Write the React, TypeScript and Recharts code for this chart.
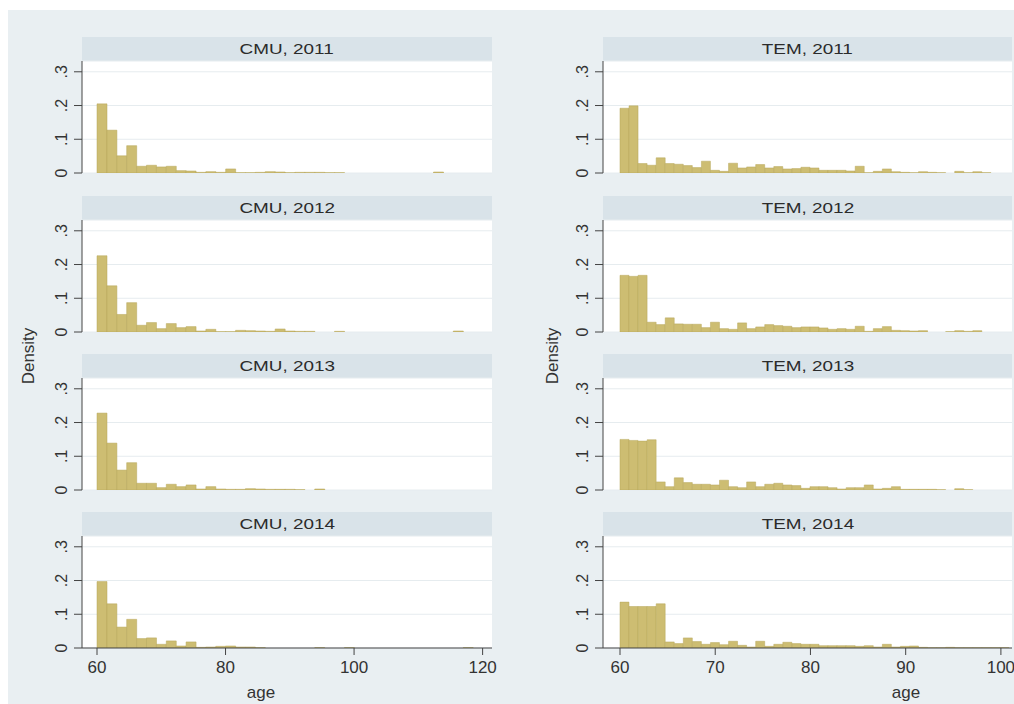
import { Bar, BarChart, CartesianGrid, XAxis, YAxis } from "recharts";

// histogram bin setup (age starts at 60)
const cmuBinWidth = 1.54;
const temBinWidth = 0.95;

const cmuTicks = [60, 80, 100, 120];
const temTicks = [60, 70, 80, 90, 100];
const densityTicks = [0, 0.1, 0.2, 0.3];

const cmu2011 = [0.205, 0.127, 0.051, 0.081, 0.02, 0.023, 0.018, 0.02, 0.007, 0.006, 0.002, 0.004, 0.002, 0.012, 0.001, 0.001, 0.002, 0.004, 0.003, 0.001, 0.002, 0.002, 0.002, 0.001, 0.001, 0, 0, 0, 0, 0, 0, 0, 0, 0, 0.003, 0, 0, 0, 0];
const cmu2012 = [0.226, 0.137, 0.052, 0.087, 0.02, 0.028, 0.01, 0.025, 0.013, 0.016, 0.003, 0.008, 0.001, 0.001, 0.005, 0.004, 0.003, 0.002, 0.009, 0.003, 0.002, 0.002, 0, 0, 0.002, 0, 0, 0, 0, 0, 0, 0, 0, 0, 0, 0, 0.003, 0, 0];
const cmu2013 = [0.228, 0.139, 0.059, 0.081, 0.02, 0.02, 0.007, 0.017, 0.01, 0.015, 0.003, 0.01, 0.003, 0.002, 0.002, 0.004, 0.003, 0.002, 0.002, 0.002, 0.001, 0, 0.003, 0, 0, 0, 0, 0, 0, 0, 0, 0, 0, 0, 0, 0, 0, 0, 0];
const cmu2014 = [0.197, 0.131, 0.062, 0.085, 0.028, 0.03, 0.011, 0.021, 0.006, 0.018, 0.002, 0.003, 0.005, 0.006, 0.003, 0.003, 0.001, 0, 0, 0, 0, 0, 0.001, 0, 0, 0.001, 0, 0, 0, 0, 0, 0, 0, 0, 0, 0, 0, 0.001, 0];

const tem2011 = [0.192, 0.199, 0.028, 0.023, 0.045, 0.028, 0.026, 0.022, 0.016, 0.035, 0.008, 0.005, 0.029, 0.015, 0.018, 0.025, 0.015, 0.019, 0.012, 0.013, 0.017, 0.015, 0.008, 0.008, 0.008, 0.006, 0.02, 0.001, 0.005, 0.012, 0.004, 0.002, 0.001, 0.004, 0.002, 0.001, 0, 0.005, 0.001, 0.004, 0.001, 0, 0];
const tem2012 = [0.168, 0.165, 0.168, 0.029, 0.022, 0.042, 0.024, 0.023, 0.023, 0.013, 0.029, 0.01, 0.008, 0.027, 0.01, 0.015, 0.022, 0.019, 0.017, 0.013, 0.015, 0.015, 0.012, 0.008, 0.01, 0.008, 0.017, 0.002, 0.01, 0.016, 0.005, 0.004, 0.003, 0.004, 0, 0, 0.001, 0.004, 0.002, 0.004, 0, 0, 0];
const tem2013 = [0.15, 0.147, 0.145, 0.149, 0.024, 0.01, 0.036, 0.022, 0.017, 0.017, 0.015, 0.029, 0.01, 0.007, 0.024, 0.01, 0.017, 0.02, 0.015, 0.013, 0.005, 0.01, 0.01, 0.007, 0.003, 0.007, 0.007, 0.015, 0.003, 0.005, 0.01, 0.002, 0.002, 0.002, 0.002, 0.001, 0, 0.004, 0.001, 0, 0, 0, 0];
const tem2014 = [0.136, 0.123, 0.123, 0.123, 0.131, 0.018, 0.013, 0.03, 0.019, 0.011, 0.016, 0.01, 0.02, 0.008, 0.003, 0.02, 0.005, 0.011, 0.017, 0.013, 0.011, 0.011, 0.007, 0.007, 0.007, 0.007, 0.005, 0.007, 0.003, 0.011, 0.003, 0.005, 0.006, 0.002, 0.001, 0.001, 0.002, 0.001, 0.001, 0.001, 0.001, 0.001, 0.001];

const font = '"Liberation Sans", Arial, sans-serif';
const rowZero = [173, 332, 490, 648];

const toRows = (values: number[], w: number) =>
  values.map((v, i) => ({ bin: i, start: 60 + i * w, density: v }));

const YTick = (props: any) => {
  const { x, y, payload } = props;
  const v = payload.value;
  const label = v === 0 ? "0" : "." + Math.round(v * 10);
  return (
    <text x={x} y={y} transform={`rotate(-90 ${x} ${y})`} textAnchor="middle" fontSize={16} fill="#333" fontFamily={font}>
      {label}
    </text>
  );
};

type PanelProps = {
  title: string;
  values: number[];
  binWidth: number;
  plotLeft: number;
  plotWidth: number;
  padL: number;
  padR: number;
  ticks: number[];
  zeroY: number;
  showX: boolean;
};

const Panel = ({ title, values, binWidth, plotLeft, plotWidth, padL, padR, ticks, zeroY, showX }: PanelProps) => {
  const data = toRows(values, binWidth);
  const end = 60 + values.length * binWidth;
  const plotH = 112;
  const topRoom = 10;
  return (
    <>
      <div
        style={{
          position: "absolute",
          left: plotLeft,
          top: zeroY - 136,
          width: plotWidth,
          height: 24,
          background: "#d9e3e9",
          display: "flex",
          alignItems: "center",
          justifyContent: "center",
          fontFamily: font,
          fontSize: 15.5,
          color: "#2b2b2b",
        }}
      >
        <span style={{ display: "inline-block", transform: "scaleX(1.22)" }}>{title}</span>
      </div>
      <div style={{ position: "absolute", left: plotLeft - 60, top: zeroY - plotH - topRoom }}>
        <BarChart
          width={60 + plotWidth + 24}
          height={topRoom + plotH + (showX ? 40 : 10)}
          data={data}
          margin={{ top: topRoom, right: 24, bottom: showX ? 0 : 10, left: 0 }}
          barCategoryGap={0}
          barGap={0}
        >
          <CartesianGrid vertical={false} stroke="#e6ecef" fill="#ffffff" />
          <XAxis xAxisId="bins" dataKey="bin" type="category" hide padding={{ left: padL, right: padR }} />
          <XAxis
            xAxisId="age"
            dataKey="start"
            type="number"
            domain={[60, end]}
            ticks={ticks}
            interval={0}
            hide={!showX}
            height={40}
            padding={{ left: padL, right: padR }}
            tickSize={7}
            tickMargin={6}
            stroke="#444"
            tick={{ fontSize: 17, fill: "#333", fontFamily: font }}
          />
          <YAxis
            type="number"
            domain={[0, 0.332]}
            ticks={densityTicks}
            interval={0}
            width={60}
            tickSize={8}
            tickMargin={7}
            stroke="#444"
            tick={<YTick />}
            allowDataOverflow
          />
          <Bar xAxisId="bins" dataKey="density" fill="#cdbd72" stroke="#b6a65a" strokeWidth={0.5} isAnimationActive={false} />
        </BarChart>
      </div>
    </>
  );
};

const cmuSeries = [cmu2011, cmu2012, cmu2013, cmu2014];
const temSeries = [tem2011, tem2012, tem2013, tem2014];
const years = [2011, 2012, 2013, 2014];

export default function App() {
  return (
    <div style={{ position: "fixed", left: 0, top: 0, width: 1014, height: 704, overflow: "hidden", background: "#fff" }}>
      <div style={{ position: "absolute", left: 8, top: 10, right: 0, bottom: 0, background: "#e9eff2" }} />
      {years.map((yr, i) => (
        <Panel
          key={"cmu" + yr}
          title={`CMU, ${yr}`}
          values={cmuSeries[i]}
          binWidth={cmuBinWidth}
          plotLeft={82}
          plotWidth={410}
          padL={15}
          padR={9}
          ticks={cmuTicks}
          zeroY={rowZero[i]}
          showX={i === 3}
        />
      ))}
      {years.map((yr, i) => (
        <Panel
          key={"tem" + yr}
          title={`TEM, ${yr}`}
          values={temSeries[i]}
          binWidth={temBinWidth}
          plotLeft={603}
          plotWidth={409}
          padL={17}
          padR={3}
          ticks={temTicks}
          zeroY={rowZero[i]}
          showX={i === 3}
        />
      ))}
      <div style={{ position: "absolute", left: 29, top: 356, transform: "translate(-50%, -50%) rotate(-90deg)", fontFamily: font, fontSize: 17, color: "#333" }}>
        Density
      </div>
      <div style={{ position: "absolute", left: 553, top: 356, transform: "translate(-50%, -50%) rotate(-90deg)", fontFamily: font, fontSize: 17, color: "#333" }}>
        Density
      </div>
      <div style={{ position: "absolute", left: 261, top: 693, transform: "translate(-50%, -50%)", fontFamily: font, fontSize: 17, color: "#333" }}>
        age
      </div>
      <div style={{ position: "absolute", left: 906, top: 693, transform: "translate(-50%, -50%)", fontFamily: font, fontSize: 17, color: "#333" }}>
        age
      </div>
    </div>
  );
}
